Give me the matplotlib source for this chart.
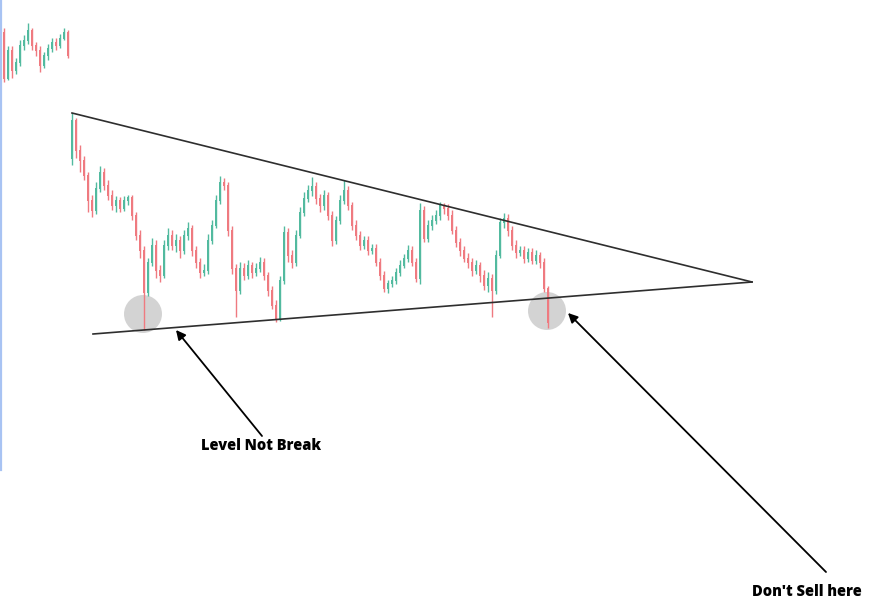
import matplotlib
matplotlib.use("Agg")
import matplotlib.pyplot as plt
from matplotlib.patches import Ellipse
import numpy as np

# candles, y values are chart levels (top = 0)
main_first_open = 158
main_close = [120, 150, 160, 175, 200, 210, 188, 172, 185, 195,
              205, 200, 208, 200, 197, 215, 235, 250, 292, 262,
              245, 270, 275, 245, 235, 245, 240, 250, 235, 228,
              250, 262, 272, 270, 240, 225, 200, 182, 185, 230,
              268, 290, 268, 275, 265, 272, 268, 262, 275, 290,
              305, 318, 280, 232, 255, 262, 235, 212, 198, 190,
              186, 198, 205, 195, 215, 240, 220, 200, 190, 205,
              225, 235, 245, 240, 250, 248, 262, 275, 288, 283,
              280, 272, 265, 258, 250, 262, 278, 210, 238, 225,
              220, 215, 205, 208, 215, 230, 242, 250, 258, 262,
              270, 265, 275, 285, 278, 290, 255, 222, 218, 230,
              245, 252, 250, 258, 252, 260, 255, 262, 288, 322]
main_high = [113, 118, 145, 156, 172, 195, 182, 166, 168, 180,
             190, 196, 197, 196, 195, 195, 212, 230, 246, 258,
             238, 240, 265, 240, 228, 230, 234, 236, 230, 222,
             225, 246, 258, 264, 234, 220, 195, 176, 178, 182,
             226, 264, 262, 263, 260, 262, 263, 257, 258, 272,
             286, 300, 276, 226, 228, 250, 230, 207, 192, 185,
             177, 182, 194, 190, 192, 211, 216, 195, 180, 186,
             202, 220, 231, 236, 236, 244, 244, 258, 271, 280,
             276, 268, 260, 254, 245, 246, 258, 203, 206, 220,
             215, 210, 202, 203, 204, 210, 226, 238, 246, 253,
             258, 260, 262, 270, 272, 274, 250, 218, 213, 214,
             226, 240, 246, 246, 248, 248, 250, 252, 258, 286]
main_low = [165, 158, 172, 180, 212, 217, 214, 192, 190, 200,
            210, 212, 212, 211, 205, 220, 240, 258, 330, 296,
            266, 278, 282, 278, 250, 250, 252, 258, 254, 240,
            256, 268, 278, 276, 274, 244, 228, 204, 190, 236,
            274, 317, 294, 280, 279, 278, 276, 272, 280, 296,
            309, 322, 321, 284, 262, 268, 266, 238, 216, 202,
            196, 204, 212, 210, 220, 246, 244, 224, 204, 210,
            230, 240, 250, 249, 255, 254, 266, 280, 292, 293,
            287, 284, 276, 268, 262, 266, 282, 284, 242, 242,
            230, 224, 220, 214, 220, 234, 247, 256, 262, 268,
            276, 274, 282, 290, 292, 317, 294, 258, 228, 236,
            250, 258, 256, 263, 262, 264, 264, 268, 292, 328]

top_first_open = 32
top_close = [78, 50, 70, 62, 45, 40, 30, 45, 50, 65, 55, 48, 42, 45, 38, 32, 55]
top_high = [28, 46, 46, 58, 40, 35, 23, 28, 42, 46, 52, 44, 38, 38, 34, 28, 30]
top_low = [82, 80, 78, 74, 66, 50, 44, 50, 56, 72, 68, 60, 52, 50, 48, 40, 58]

GREEN = "#52ba9f"
RED = "#ef7a80"


def draw_candles(ax, idx, first_open, close, high, low):
    close = np.array(close, dtype=float)
    opens = np.r_[first_open, close[:-1]]
    # y axis is flipped, so a smaller value means price went up
    cols = [GREEN if c < o else RED for o, c in zip(opens, close)]
    ax.vlines(idx, high, low, colors=cols, lw=1.0, zorder=3)
    ax.bar(idx, np.abs(close - opens) + 1, bottom=np.minimum(opens, close),
           width=0.7, color=cols, zorder=4, linewidth=0)


fig = plt.figure(figsize=(8.78, 6.09), dpi=100)
ax = fig.add_axes([0, 0, 1, 1])
ax.set_xlim(-18, 201.5)
ax.set_ylim(609, 0)
ax.axis("off")

draw_candles(ax, np.arange(len(main_close)), main_first_open,
             main_close, main_high, main_low)
draw_candles(ax, np.arange(-len(top_close), 0), top_first_open,
             top_close, top_high, top_low)

# grey markers on the lows
for cx, cy in [(17.75, 314), (118.75, 311)]:
    ax.add_patch(Ellipse((cx, cy), 9.5, 38, color="#c9c9c9", alpha=0.8,
                         zorder=2, lw=0))

# overlay in pixel units for lines, arrows and text
ov = fig.add_axes([0, 0, 1, 1], facecolor="none")
ov.set_xlim(0, 878)
ov.set_ylim(609, 0)
ov.axis("off")

ov.plot([0.8, 0.8], [0, 470], color="#a8c3f3", lw=1.6)
ov.plot([72, 752], [113, 282], color="#2e2e2e", lw=1.2)
ov.plot([93, 752], [334, 282], color="#2e2e2e", lw=1.2)

arrow = dict(arrowstyle="-|>", color="black", lw=1.3, mutation_scale=14,
             shrinkA=0, shrinkB=0)
ov.annotate("", xy=(176, 330), xytext=(262, 436), arrowprops=arrow)
ov.annotate("", xy=(568, 313), xytext=(826, 572), arrowprops=arrow)

lab_font = dict(fontsize=10.5, fontweight=800, family=["Open Sans", "DejaVu Sans"])
ov.text(261, 446, "Level Not Break", ha="center", va="center", **lab_font)
ov.text(807, 592, "Don't Sell here", ha="center", va="center", **lab_font)

fig.savefig("out.png", dpi=100, facecolor="white")
